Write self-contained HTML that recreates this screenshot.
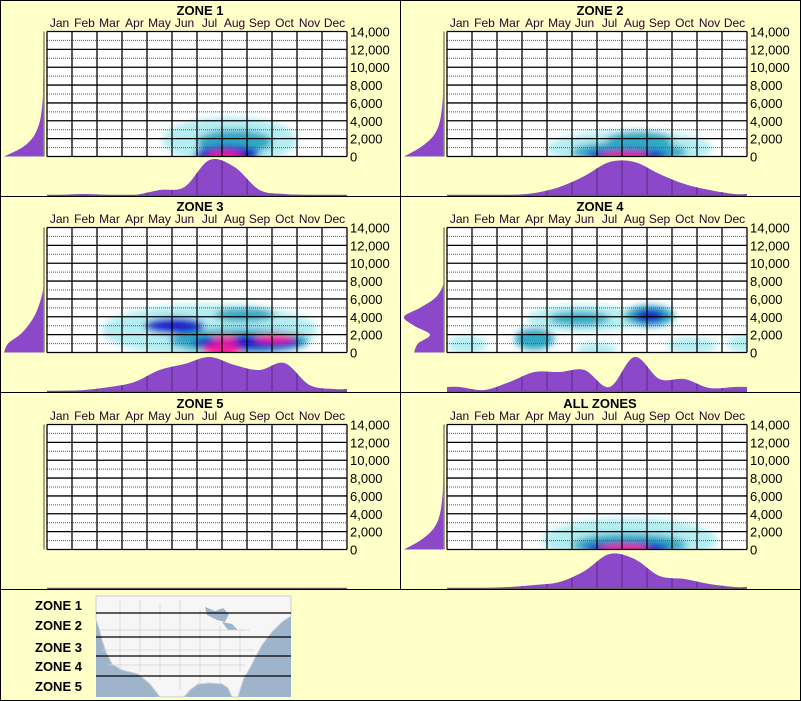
<!DOCTYPE html>
<html><head><meta charset="utf-8">
<style>
html,body{margin:0;padding:0;background:#ffffc8;}
svg{display:block;font-family:"Liberation Sans",Arial,sans-serif;}
</style></head>
<body>
<svg id="chart" width="801" height="701" viewBox="0 0 801 701" xmlns="http://www.w3.org/2000/svg">
<defs>
<filter id="blur" x="-50%" y="-50%" width="200%" height="200%"><feGaussianBlur stdDeviation="3.5"/></filter>
</defs>
<rect x="0" y="0" width="801" height="701" fill="#ffffc8"/>
<g id="panels"></g>
<g>
  <g font-size="13" font-weight="bold" fill="#000">
    <text x="35" y="610">ZONE 1</text>
    <text x="35" y="630">ZONE 2</text>
    <text x="35" y="652">ZONE 3</text>
    <text x="35" y="671">ZONE 4</text>
    <text x="35" y="691">ZONE 5</text>
  </g>
  <g>
    <rect x="96" y="596" width="195" height="101" fill="#9db4cb"/>
    <path d="M96,596 L291,596 L291,616 L282,622 L272,632 L262,645 L256,656 L250,668 L244,678 L240,690 L238,697 L232,697 L228,688 L222,684 L210,683 L198,684 L190,690 L184,697 L160,697 L150,684 L138,674 L122,670 L112,664 L106,652 L102,640 L99,628 L96,620 Z" fill="#f6f6f6" stroke="#cfcfcf"/>
    <path d="M205,607 l10,4 l8,-3 l6,6 l-4,8 l-8,-2 l-10,-5 Z M222,622 l10,2 l6,6 l-10,0 Z" fill="#9db4cb"/>
    <g stroke="#d4d4d4" stroke-width="0.8" fill="none">
      <path d="M120,600 L120,670 M140,600 L140,672 M160,605 L160,680 M180,600 L180,690 M200,610 L200,683 M220,625 L220,684 M240,630 L240,672 M100,630 L250,630 M102,650 L255,650 M108,665 L245,665"/>
    </g>
    <g stroke="#000" stroke-width="1.2">
      <line x1="96" y1="613" x2="291" y2="613"/>
      <line x1="96" y1="637" x2="291" y2="637"/>
      <line x1="96" y1="656" x2="291" y2="656"/>
      <line x1="96" y1="676" x2="291" y2="676"/>
    </g>
  </g>
</g>
<g stroke="#000" stroke-width="1" fill="none">
  <rect x="0.5" y="0.5" width="800" height="700"/>
  <line x1="400.5" y1="0" x2="400.5" y2="589"/>
  <line x1="0" y1="196.5" x2="801" y2="196.5"/>
  <line x1="0" y1="392.5" x2="801" y2="392.5"/>
  <line x1="0" y1="589.5" x2="801" y2="589.5"/>
</g>
</svg>
<script>
// ---- data ----
const months = ["Jan","Feb","Mar","Apr","May","Jun","Jul","Aug","Sep","Oct","Nov","Dec"];
const yTicks = [0,2000,4000,6000,8000,10000,12000,14000];
const yTickLabels = ["0","2,000","4,000","6,000","8,000","10,000","12,000","14,000"];
const zoneTitles = ["ZONE 1","ZONE 2","ZONE 3","ZONE 4","ZONE 5","ALL ZONES"];
// monthly density (relative height in px, max ~36)
const monthly1 = [1,2,1,1,6,9,36,29,6,2,1,0];
const monthly2 = [1,1,1,3,9,20,34,34,22,12,6,2];
const monthly3 = [1,2,5,10,22,28,35,27,22,29,7,3];
const monthly4 = [5,2,10,20,20,22,5,35,13,13,4,5];
const monthly5 = [0,0,0,0,0,0,0,0,0,0,0,0];
const monthlyAll = [0,1,2,4,7,18,35,30,13,10,5,2];
// elevation density at 0,1000,...,14000 ft (width in px)
const elev1 = [40,22,12,7,4,2.5,1.5,1,1,0.7,0.5,0.4,0.3,0.2,0];
const elev2 = [40,24,13,7,4,2.5,1.5,1,0.8,0.6,0.4,0.3,0.2,0.1,0];
const elev3 = [40,36,24,16,10,6,3,1,0,0,0,0,0,0,0];
const elev4 = [30,26,14,30,40,24,10,3,0,0,0,0,0,0,0];
const elev5 = [0,0,0,0,0,0,0,0,0,0,0,0,0,0,0];
const elevAll = [40,24,13,7,4,2.5,1.5,1,0.8,0.6,0.4,0.3,0.2,0.1,0];
// heat blobs: month index, elevation (ft), x-radius (months), y-radius (ft), level 1-4
const heat1 = [[6.8,1800,2.7,2600,1],[7.0,1600,1.5,1400,2],[6.7,200,1.3,1000,3],[6.6,0,0.7,550,4]];
const heat2 = [[6.8,900,3.3,2000,1],[7.2,1800,1.3,1000,2],[6.8,500,2.3,1200,2],[6.7,100,1.6,750,3],[6.6,0,1.0,450,4]];
const heat3 = [[6.0,2500,4.3,2900,1],[4.6,3000,1.2,900,3],[7.4,4200,1.2,800,2],[7.2,1300,2.8,1400,2],[7.5,1100,2.2,800,3],[6.5,200,0.8,700,4],[8.6,1600,0.8,450,4],[6.6,1500,0.5,400,4]];
const heat4 = [[5.0,3800,2.3,1500,1],[4.8,3800,1.2,800,2],[7.6,4100,1.0,1200,2],[7.6,4100,0.6,700,3],[3.0,1500,0.8,1200,2],[0.3,900,0.8,1000,1],[11.5,1000,0.8,1000,1],[9.3,800,1.0,900,1],[5.5,300,0.8,800,1]];
const heat5 = [];
const heatAll = [[6.8,1000,3.5,2500,1],[6.8,500,2.3,1300,2],[6.7,100,1.7,750,3],[6.6,0,1.0,500,4]];

const monthlySets = [monthly1,monthly2,monthly3,monthly4,monthly5,monthlyAll];
const elevSets = [elev1,elev2,elev3,elev4,elev5,elevAll];
const heatSets = [heat1,heat2,heat3,heat4,heat5,heatAll];
const heatColors = ["#b4eef2","#30a8c4","#1418c8","#ff1a96"];

const NS = "http://www.w3.org/2000/svg";
const root = document.getElementById("panels");
function mk(tag, attrs, parent){ const e=document.createElementNS(NS,tag); for(const k in attrs) e.setAttribute(k,attrs[k]); parent.appendChild(e); return e; }
function smooth(pts){
  let d="M"+pts[0][0]+","+pts[0][1];
  for(let i=0;i<pts.length-1;i++){
    const p0=pts[Math.max(0,i-1)],p1=pts[i],p2=pts[i+1],p3=pts[Math.min(pts.length-1,i+2)];
    const c1=[p1[0]+(p2[0]-p0[0])/6,p1[1]+(p2[1]-p0[1])/6];
    const c2=[p2[0]-(p3[0]-p1[0])/6,p2[1]-(p3[1]-p1[1])/6];
    d+=" C"+c1[0]+","+c1[1]+" "+c2[0]+","+c2[1]+" "+p2[0]+","+p2[1];
  }
  return d;
}

for(let z=0; z<6; z++){
  const ox = (z%2)*400;
  const oy = [0,196,393][Math.floor(z/2)];
  const gl = ox+47, gr = ox+347, gt = oy+31.5, gb = oy+156.5;
  const xScale = m => gl + (m+0.5)*(gr-gl)/12;
  const yScale = v => gb - v/14000*(gb-gt);
  const g = mk("g",{},root);
  
  

  const t = mk("text",{x:ox+200,y:oy+15,"text-anchor":"middle","font-size":"13","font-weight":"bold",fill:"#000"},g);
  t.textContent = zoneTitles[z];
  
  

  months.forEach((m,i)=>{
    const mt = mk("text",{x:xScale(i),y:oy+27,"text-anchor":"middle","font-size":"12",fill:"#2a002a"},g);
    mt.textContent = m;
    
    
  });

  const bg = mk("rect",{x:gl,y:gt,width:gr-gl,height:gb-gt,fill:"#fff"},g);
  
  

  const cid = "clip"+z;
  const cp = mk("clipPath",{id:cid},g);
  mk("rect",{x:gl,y:gt,width:gr-gl,height:gb-gt},cp);
  const hg = mk("g",{"clip-path":"url(#"+cid+")"},g);
  const inner = mk("g",{filter:"url(#blur)"},hg);
  heatSets[z].forEach(b=>{
    const e = mk("ellipse",{cx:xScale(b[0]),cy:yScale(b[1]),rx:b[2]*25,ry:b[3]/14000*(gb-gt),fill:heatColors[b[4]-1]},inner);
    
    
  });

  for(let v=1000; v<14000; v+=2000){
    const l = mk("line",{x1:gl,x2:gr,y1:yScale(v),y2:yScale(v),stroke:"#555","stroke-width":"1","stroke-dasharray":"1,1"},g);
    
    
  }
  yTicks.forEach((v,i)=>{
    const l = mk("line",{x1:gl,x2:gr,y1:yScale(v),y2:yScale(v),stroke:"#000","stroke-width":"1.3"},g);
    
    
    const tl = mk("text",{x:ox+350,y:yScale(v)+5,"font-size":"13",fill:"#000"},g);
    tl.textContent = yTickLabels[i];
    
    
  });
  for(let i=0;i<=12;i++){
    const x = gl+i*25;
    const l = mk("line",{x1:x,x2:x,y1:gt,y2:gb,stroke:"#000","stroke-width":"1.3"},g);
    
    
  }

  const ax = ox+44;
  const ep = elevSets[z].map((w,i)=>[ax-w, yScale(i*1000)]);
  const ed = smooth(ep) + " L"+ax+","+yScale(14000)+" L"+ax+","+gb+" Z";
  const ea = mk("path",{d:ed,fill:"#8b48c8"},g);
  
  
  const axl = mk("line",{x1:ax,x2:ax,y1:gt,y2:gb,stroke:"#8a8a70","stroke-width":"1.5"},g);
  
  

  const base = oy+196;
  const vals = monthlySets[z];
  const pts = [[gl, base-vals[0]]].concat(vals.map((v,i)=>[xScale(i), base-v])).concat([[gr, base-vals[11]]]);
  const md = smooth(pts)+" L"+gr+","+base+" L"+gl+","+base+" Z";
  const ma = mk("path",{d:md,fill:"#8b48c8"},g);
  
  
  const mcp = mk("clipPath",{id:"mclip"+z},g);
  mk("path",{d:md},mcp);
  for(let i=1;i<12;i++){
    const x = gl+i*25;
    const l = mk("line",{x1:x,x2:x,y1:base-40,y2:base,stroke:"#5a2a80","stroke-width":"1"},g);
    l.setAttribute("clip-path","url(#mclip"+z+")");
    
    
  }
  const bl = mk("line",{x1:gl,x2:gr,y1:base-0.5,y2:base-0.5,stroke:"#6a5a70","stroke-width":"1.5"},g);
  
  
}
</script>
</body></html>
